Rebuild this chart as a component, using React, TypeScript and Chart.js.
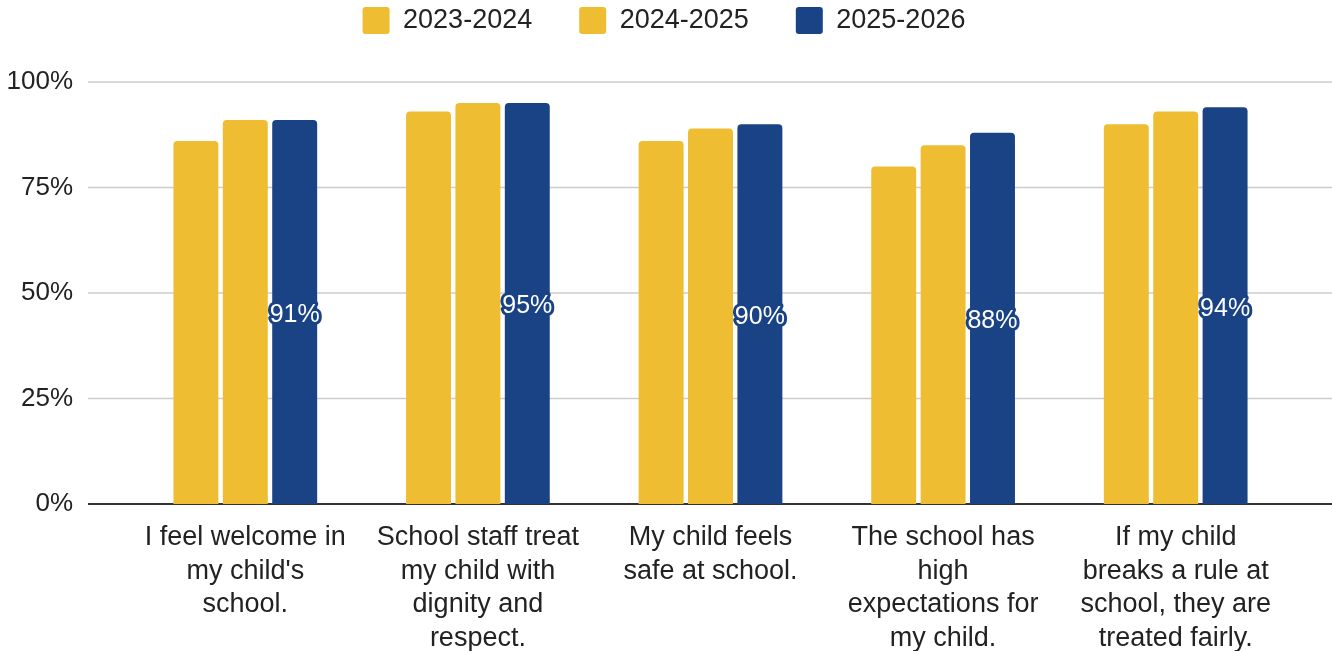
import React, { useEffect, useRef } from "react";
import { Chart, registerables } from "chart.js";

Chart.register(...registerables);

const categories: string[][] = [
  ["I feel welcome in", "my child's", "school."],
  ["School staff treat", "my child with", "dignity and", "respect."],
  ["My child feels", "safe at school."],
  ["The school has", "high", "expectations for", "my child."],
  ["If my child", "breaks a rule at", "school, they are", "treated fairly."],
];
const seriesNames = ["2023-2024", "2024-2025", "2025-2026"];
const values2023 = [86, 93, 86, 80, 90];
const values2024 = [91, 95, 89, 85, 93];
const values2025 = [91, 95, 90, 88, 94];
const yTickValues = [0, 25, 50, 75, 100];

const YELLOW = "#EFBD32";
const BLUE = "#1A4386";
const FONT = "'Liberation Sans', Arial, sans-serif";

const gridPlugin = {
  id: "fullGrid",
  beforeDatasetsDraw(chart: any) {
    const { ctx } = chart;
    const y = chart.scales.y;
    ctx.save();
    yTickValues.forEach((v) => {
      const py = y.getPixelForValue(v);
      ctx.beginPath();
      ctx.lineWidth = v === 0 ? 2 : 1.5;
      ctx.strokeStyle = v === 0 ? "#333333" : "#cccccc";
      ctx.moveTo(88, py);
      ctx.lineTo(chart.width, py);
      ctx.stroke();
    });
    ctx.restore();
  },
};

const valueLabelPlugin = {
  id: "valueLabels",
  afterDatasetsDraw(chart: any) {
    const { ctx } = chart;
    const meta = chart.getDatasetMeta(2);
    const data = chart.data.datasets[2].data as number[];
    ctx.save();
    ctx.font = `25px ${FONT}`;
    ctx.textAlign = "center";
    ctx.textBaseline = "middle";
    ctx.lineJoin = "round";
    meta.data.forEach((el: any, i: number) => {
      const x = el.x;
      const yy = (el.y + el.base) / 2 + 3;
      const txt = `${data[i]}%`;
      ctx.lineWidth = 6;
      ctx.strokeStyle = BLUE;
      ctx.strokeText(txt, x, yy);
      ctx.fillStyle = "#ffffff";
      ctx.fillText(txt, x, yy);
    });
    ctx.restore();
  },
};

const LEGEND_H = 122;
const LEGEND_SHIFT = 18;
const legendSizer = {
  id: "legendSizer",
  afterInit(chart: any) {
    const lg = chart.legend;
    if (lg) {
      const f = lg.fit.bind(lg);
      lg.fit = () => {
        f();
        lg.height = LEGEND_H;
      };
      const d = lg.draw.bind(lg);
      lg.draw = () => {
        chart.ctx.save();
        chart.ctx.translate(LEGEND_SHIFT, 0);
        d();
        chart.ctx.restore();
      };
    }
  },
};

export default function App() {
  const ref = useRef<HTMLCanvasElement>(null);
  useEffect(() => {
    const canvas = ref.current;
    if (!canvas) return;
    const radius = { topLeft: 4, topRight: 4, bottomLeft: 0, bottomRight: 0 };
    const chart = new Chart(canvas, {
      type: "bar",
      data: {
        labels: categories,
        datasets: [
          { label: seriesNames[0], data: values2023, backgroundColor: YELLOW, borderRadius: radius, borderSkipped: false },
          { label: seriesNames[1], data: values2024, backgroundColor: YELLOW, borderRadius: radius, borderSkipped: false },
          { label: seriesNames[2], data: values2025, backgroundColor: BLUE, borderRadius: radius, borderSkipped: false },
        ],
      },
      options: {
        animation: false,
        responsive: true,
        maintainAspectRatio: false,
        layout: { padding: { top: -40, right: 40, left: 0, bottom: 0 } },
        datasets: { bar: { categoryPercentage: 0.637, barPercentage: 0.91 } },
        plugins: {
          tooltip: { enabled: false },
          legend: {
            position: "top",
            align: "center",
            labels: {
              boxWidth: 27,
              boxHeight: 27,
              padding: 47,
              useBorderRadius: true,
              borderRadius: 3,
              color: "#222222",
              font: { family: FONT, size: 27 },
            },
          },
        },
        scales: {
          x: {
            grid: { display: false, drawTicks: false },
            border: { display: false },
            ticks: {
              color: "#222222",
              font: { family: FONT, size: 27, lineHeight: 1.24 },
              padding: 17,
              maxRotation: 0,
              autoSkip: false,
            },
            afterFit(scale: any) {
              scale.height = 147;
            },
          },
          y: {
            min: 0,
            max: 100,
            grid: { display: false, drawTicks: false },
            border: { display: false },
            ticks: {
              stepSize: 25,
              color: "#222222",
              font: { family: FONT, size: 26 },
              padding: 56,
              callback: (v: any) => `${v}%`,
            },
            afterFit(scale: any) {
              scale.width = 129;
            },
          },
        },
      },
      plugins: [gridPlugin, valueLabelPlugin, legendSizer],
    });
    return () => chart.destroy();
  }, []);
  return (
    <div style={{ position: "fixed", left: 0, top: 0, width: 1332, height: 651, background: "#ffffff" }}>
      <canvas ref={ref} />
    </div>
  );
}
